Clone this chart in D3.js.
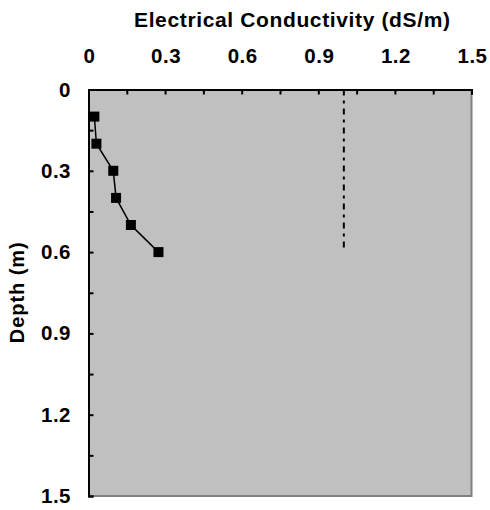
<!DOCTYPE html>
<html lang="en">
<head>
  <meta charset="UTF-8" />
  <title>Electrical Conductivity Profile</title>
  <script src="https://d3js.org/d3.v7.min.js"></script>
  <style>
    body { margin: 0; background: #fff; }
    svg { display: block; font-family: "Liberation Sans", Arial, sans-serif; font-weight: bold; }
  </style>
</head>
<body>
  <svg id="chart" width="490" height="510"></svg>
  <script>
    // measured values (EC in dS/m vs depth in m)
    const depths = [0.1, 0.2, 0.3, 0.4, 0.5, 0.6];
    const ecValues = [0.023, 0.031, 0.097, 0.108, 0.166, 0.274];
    const threshold = [{ ec: 1.0, depth: 0 }, { ec: 1.0, depth: 0.6 }];
    const xTicks = [0, 0.3, 0.6, 0.9, 1.2, 1.5];
    const yTicks = [0, 0.3, 0.6, 0.9, 1.2, 1.5];
    const minorTicks = d3.range(0, 1.5001, 0.15);

    const svg = d3.select('#chart');
    const plotLeft = 88.5, plotRight = 471.5, plotTop = 89.5, plotBottom = 496;

    const x = d3.scaleLinear().domain([0, 1.5]).range([plotLeft, plotRight]);
    const y = d3.scaleLinear().domain([0, 1.5]).range([plotTop, plotBottom]);

    // plot background
    svg.append('rect')
      .attr('x', plotLeft).attr('y', plotTop)
      .attr('width', plotRight - plotLeft).attr('height', plotBottom - plotTop)
      .attr('fill', '#c0c0c0');

    // grey right/bottom border
    svg.append('path')
      .attr('d', `M${plotRight},${plotTop}V${plotBottom}H${plotLeft}`)
      .attr('fill', 'none')
      .attr('stroke', '#808080')
      .attr('stroke-width', 2);

    // top axis
    const xAxis = svg.append('g')
      .attr('transform', `translate(0,${plotTop})`)
      .call(d3.axisTop(x).tickValues(minorTicks).tickSize(-5).tickFormat(''));
    xAxis.select('.domain').attr('stroke', '#000').attr('stroke-width', 2);
    xAxis.selectAll('.tick line').attr('stroke', '#000').attr('stroke-width', 2);

    svg.append('g').selectAll('text')
      .data(xTicks)
      .join('text')
      .attr('x', d => x(d) + 1)
      .attr('y', 63)
      .attr('text-anchor', 'middle')
      .attr('font-size', 20.5)
      .attr('letter-spacing', 0.5)
      .text(d => d3.format('')(d));

    // left axis
    const yAxis = svg.append('g')
      .attr('transform', `translate(${plotLeft},0)`)
      .call(d3.axisLeft(y).tickValues(minorTicks).tickSize(-5).tickFormat(''));
    yAxis.select('.domain').attr('stroke', '#000').attr('stroke-width', 2);
    yAxis.selectAll('.tick line').attr('stroke', '#000').attr('stroke-width', 2);

    svg.append('g').selectAll('text')
      .data(yTicks)
      .join('text')
      .attr('x', 71)
      .attr('y', d => y(d) + 7)
      .attr('text-anchor', 'end')
      .attr('font-size', 20.5)
      .attr('letter-spacing', 0.5)
      .text(d => d3.format('')(d));

    // axis titles
    svg.append('text')
      .attr('x', 134)
      .attr('y', 27)
      .attr('font-size', 21)
      .attr('textLength', 316)
      .attr('lengthAdjust', 'spacing')
      .text('Electrical Conductivity (dS/m)');

    svg.append('text')
      .attr('transform', `translate(24,${(plotTop + plotBottom) / 2}) rotate(-90)`)
      .attr('text-anchor', 'middle')
      .attr('font-size', 20)
      .attr('textLength', 101)
      .attr('lengthAdjust', 'spacing')
      .text('Depth (m)');

    // threshold line
    svg.append('path')
      .datum(threshold)
      .attr('d', d3.line().x(d => x(d.ec)).y(d => y(d.depth)))
      .attr('stroke', '#000')
      .attr('stroke-width', 2)
      .attr('stroke-dasharray', '6,5,3,5');

    // EC profile
    const pts = depths.map((d, i) => ({ depth: d, ec: ecValues[i] }));
    svg.append('path')
      .datum(pts)
      .attr('d', d3.line().x(d => x(d.ec)).y(d => y(d.depth)))
      .attr('fill', 'none')
      .attr('stroke', '#000')
      .attr('stroke-width', 1.5);

    svg.append('g').selectAll('rect')
      .data(pts)
      .join('rect')
      .attr('x', d => x(d.ec) - 5)
      .attr('y', d => y(d.depth) - 5)
      .attr('width', 10)
      .attr('height', 10)
      .attr('fill', '#000');
  </script>
</body>
</html>
